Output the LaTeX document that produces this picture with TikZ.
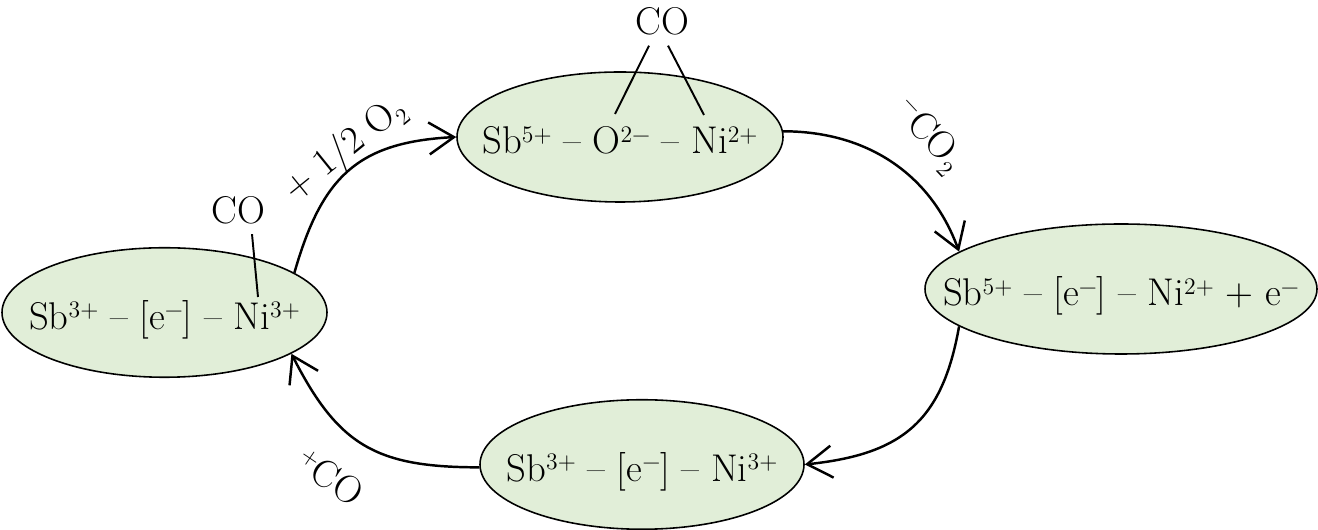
\documentclass[tikz,border=0pt]{standalone}
\usepackage{fontspec}
\usetikzlibrary{shapes.geometric,arrows.meta}
\definecolor{ionfill}{RGB}{225,238,216}
\newcommand{\chup}[1]{\raisebox{0.3em}{\fontsize{13.5}{15}\selectfont #1}}
\newcommand{\chdn}[1]{\raisebox{-0.22em}{\fontsize{13.5}{15}\selectfont #1}}
\newcommand{\ctr}[1]{\makebox[0pt]{#1}}
\begin{document}
\begin{tikzpicture}[
    font=\fontsize{22}{26}\selectfont,
    ion/.style={ellipse,draw,line width=0.9pt,fill=ionfill,inner sep=0pt,
      minimum height=2.59cm,text height=0.68cm,text depth=0pt},
    lig/.style={inner sep=0.2cm},
    bond/.style={line width=1.1pt},
    >={Straight Barb[length=0.5cm,width=0.64cm]}]
        \useasboundingbox (0,0) rectangle (26.36,10.6);
        % the four states of the cycle
        \node[ion,minimum width=6.5cm] (w) at (3.29,4.35) {\ctr{Sb\chup{3+} – [e\chup{−}] – Ni\chup{3+}}};
        \node[ion,minimum width=6.52cm,minimum height=2.6cm] (n) at (12.40,7.86) {\ctr{Sb\chup{5+} – O\chup{2−} – Ni\chup{2+}}};
        \node[ion,minimum width=7.84cm,minimum height=2.6cm] (e) at (22.42,4.82) {\ctr{Sb\chup{5+} – [e\chup{−}] – Ni\chup{2+} + e\chup{−}}};
        \node[ion,minimum width=6.48cm] (s) at (12.84,1.31) {\ctr{Sb\chup{3+} – [e\chup{−}] – Ni\chup{3+}}};
        % adsorbed CO
        \node[lig] (con) at (13.24,10.17) {CO};
        \node[lig] (cow) at (4.77,6.40) {CO};
        \coordinate (oxn) at (12.30,8.32);
        \coordinate (nin) at (14.08,8.30);
        \coordinate (niw) at (5.16,4.66);
        \draw[bond] ([xshift=-0.26cm]con.south) -- (oxn);
        \draw[bond] ([xshift=0.12cm]con.south) -- (nin);
        \draw[bond] ([xshift=0.27cm]cow.south) -- (niw);
        % steps
        \draw[->,line width=1.4pt] (w.17) to[out=74,in=183,looseness=1.2] (n.west);
        \draw[->,line width=1.4pt] (n.2) to[out=0,in=110] (e.167);
        \draw[->,line width=1.4pt] (e.193) to[out=260,in=6,looseness=1.2] (s.east);
        \draw[->,line width=1.4pt] (s.181) to[out=180,in=-63,looseness=1.2] (w.-18);
        \node[rotate=39] (lo2) at (6.90,7.60) {+ 1/2 O\chdn{2}};
        \node[rotate=-47] (lco2) at (18.56,7.88) {\chup{−}CO\chdn{2}};
        \node[rotate=-34] (lco) at (6.60,1.06) {\chup{+}CO};
      \end{tikzpicture}
\end{document}
